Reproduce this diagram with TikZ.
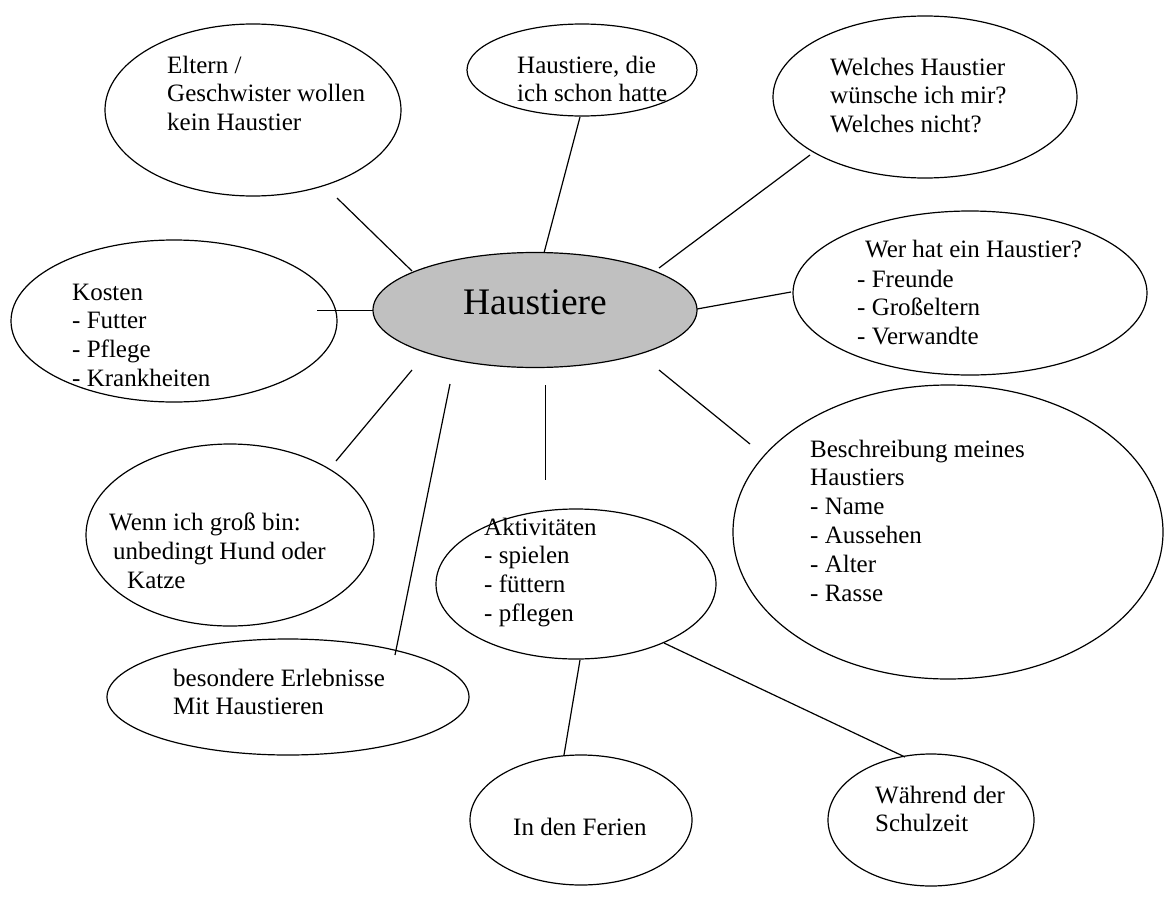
\documentclass[tikz,border=0pt]{standalone}
\usepackage{fontspec}
\setmainfont{Liberation Serif}
\usetikzlibrary{shapes.geometric}
\definecolor{centergray}{RGB}{192,192,192}
\newcommand{\mltext}[1]{\begin{tabular}[t]{@{}l@{}}#1\end{tabular}}
\tikzset{
  bubble/.style={draw=black, line width=1.2pt, ellipse, inner sep=0pt, fill=white},
  txt/.style={anchor=base west, inner sep=0pt, font=\fontsize{25}{28.8}\selectfont},
  link/.style={draw=black, line width=1.2pt}
}
\begin{document}
\begin{tikzpicture}[x=1pt,y=-1pt]
\useasboundingbox[fill=white] (0,0) rectangle (1164,902);
\coordinate (l1a) at (337,198); \coordinate (l1b) at (412,271);
\coordinate (l2a) at (580,117); \coordinate (l2b) at (544,253);
\coordinate (l3a) at (810,155); \coordinate (l3b) at (659,268);
\coordinate (l4a) at (317,310.5); \coordinate (l4b) at (373,310.5);
\coordinate (l5a) at (697,309); \coordinate (l5b) at (791,292);
\coordinate (l6a) at (659,370); \coordinate (l6b) at (750,444);
\coordinate (l7a) at (412,370); \coordinate (l7b) at (336,461);
\coordinate (l8a) at (450,384); \coordinate (l8b) at (395,655);
\coordinate (l9a) at (545.5,385); \coordinate (l9b) at (545.5,480);
\coordinate (l10a) at (580,660); \coordinate (l10b) at (564,755);
\coordinate (l11a) at (664,643); \coordinate (l11b) at (905,757);

\node[bubble, minimum width=296pt, minimum height=172pt] (eltern) at (253,110) {};
\node[bubble, minimum width=230pt, minimum height=92pt] (hatte) at (582,70) {};
\node[bubble, minimum width=304pt, minimum height=162pt] (wunsch) at (925,97) {};
\node[bubble, minimum width=326pt, minimum height=162pt] (kosten) at (174,321) {};
\node[bubble, minimum width=354pt, minimum height=164pt] (wer) at (970,293) {};
\node[bubble, minimum width=430pt, minimum height=294pt] (beschr) at (948,532) {};
\node[bubble, minimum width=288pt, minimum height=182pt] (gross) at (230,535) {};
\node[bubble, minimum width=280pt, minimum height=150pt] (akt) at (576,584) {};
\node[bubble, minimum width=362pt, minimum height=116pt] (erleb) at (288,697) {};
\node[bubble, minimum width=222pt, minimum height=130pt] (ferien) at (581,820) {};
\node[bubble, minimum width=206pt, minimum height=132pt] (schule) at (931,820) {};
\node[bubble, fill=centergray, minimum width=324pt, minimum height=115pt] (center) at (535,310) {};

\draw[link] (l1a) -- (l1b);
\draw[link] (l2a) -- (l2b);
\draw[link] (l3a) -- (l3b);
\draw[link] (l4a) -- (l4b);
\draw[link] (l5a) -- (l5b);
\draw[link] (l6a) -- (l6b);
\draw[link] (l7a) -- (l7b);
\draw[link] (l8a) -- (l8b);
\draw[link] (l9a) -- (l9b);
\draw[link] (l10a) -- (l10b);
\draw[link] (l11a) -- (l11b);

\node[txt] (elternT) at (167,73) {\mltext{Eltern /\\Geschwister wollen\\kein Haustier}};
\node[txt] (hatteT) at (517,73) {\mltext{Haustiere, die\\ich schon hatte}};
\node[txt] (wunschT) at (830,75) {\mltext{Welches Haustier\\wünsche ich mir?\\Welches nicht?}};
\node[txt] (kostenT) at (72,300) {\mltext{Kosten\\- Futter\\- Pflege\\- Krankheiten}};
\node[txt] (werT) at (865,257) {Wer hat ein Haustier?};
\node[txt] (werL) at (857,287) {\mltext{- Freunde\\- Großeltern\\- Verwandte}};
\node[txt] (beschrT) at (810,457) {\mltext{Beschreibung meines\\Haustiers\\- Name\\- Aussehen\\- Alter\\- Rasse}};
\node[txt] (grossT1) at (109,530) {Wenn ich groß bin:};
\node[txt] (grossT2) at (113,559) {unbedingt Hund oder};
\node[txt] (grossT3) at (127,588) {Katze};
\node[txt] (aktT) at (484,535) {\mltext{Aktivitäten\\- spielen\\- füttern\\- pflegen}};
\node[txt] (erlebT) at (173,686) {\mltext{besondere Erlebnisse\\Mit Haustieren}};
\node[txt] (ferienT) at (513,835) {In den Ferien};
\node[txt] (schuleT) at (875,803) {\mltext{Während der\\Schulzeit}};
\node[anchor=base, inner sep=0pt, font=\fontsize{37.5}{42}\selectfont] (centerT) at (535,314) {Haustiere};
\end{tikzpicture}
\end{document}
